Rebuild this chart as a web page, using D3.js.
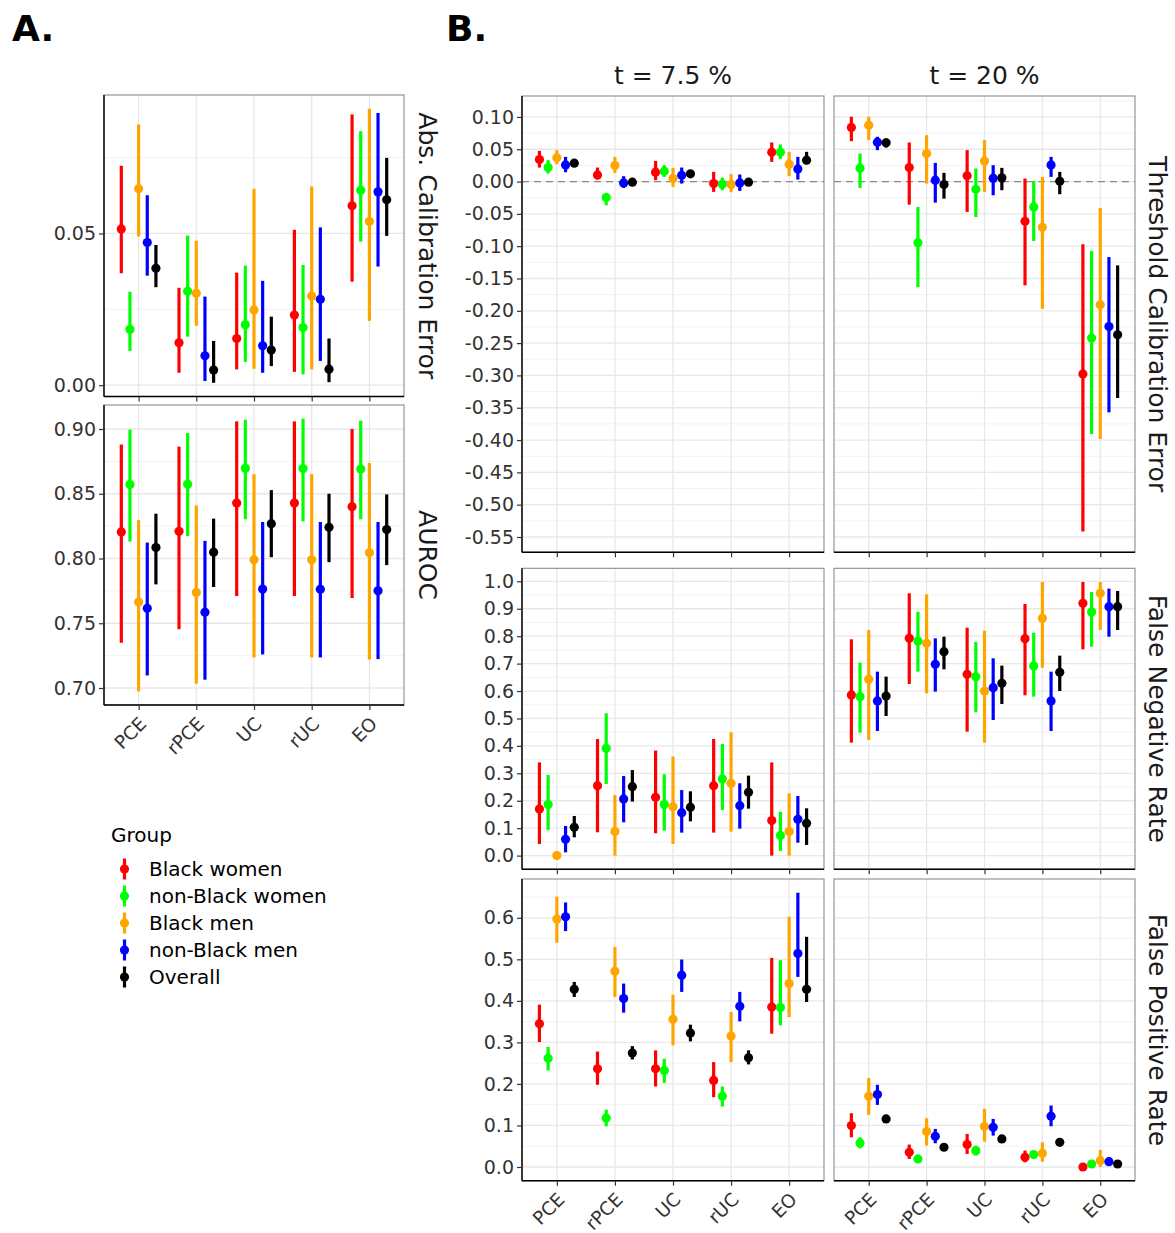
<!DOCTYPE html>
<html><head><meta charset="utf-8">
<script src="https://cdn.jsdelivr.net/npm/d3@7"></script>
<style>body{margin:0;background:#fff} svg{display:block} text{font-family:"DejaVu Sans",sans-serif}</style>
</head><body><svg id="c" width="1175" height="1233"></svg>
<script>
// ---------- data ----------
const categories = ["PCE", "rPCE", "UC", "rUC", "EO"];
const groups = ["Black women", "non-Black women", "Black men", "non-Black men", "Overall"];
const groupColors = ["#FF0000", "#00FF00", "#FFA500", "#0000FF", "#000000"];

// rows = groups, columns = categories
const aceEst = [[0.0515,0.014,0.0154,0.0231,0.0591],[0.0184,0.031,0.0199,0.019,0.0642],[0.0647,0.0303,0.0248,0.0294,0.0539],[0.047,0.0097,0.013,0.0283,0.0637],[0.0385,0.005,0.0116,0.0053,0.0611]];
const aceLo  = [[0.0369,0.0041,0.0052,0.0044,0.0341],[0.0113,0.016,0.0077,0.0036,0.0473],[0.049,0.0196,0.0054,0.0052,0.0212],[0.0361,0.0014,0.0041,0.008,0.0391],[0.0323,0.0008,0.0063,0.001,0.0492]];
const aceHi  = [[0.0723,0.0321,0.0371,0.0512,0.0892],[0.0308,0.0493,0.0394,0.0396,0.0837],[0.0859,0.0476,0.0647,0.0655,0.0911],[0.0626,0.0292,0.0344,0.052,0.0897],[0.0462,0.0146,0.0226,0.0154,0.0749]];

const aucEst = [[0.8205,0.821,0.8428,0.8428,0.84],[0.8572,0.8574,0.8697,0.8695,0.8692],[0.7664,0.7738,0.799,0.799,0.8044],[0.7615,0.7585,0.7764,0.7762,0.7751],[0.8085,0.8049,0.8269,0.8241,0.8223]];
const aucLo  = [[0.7349,0.7454,0.771,0.771,0.7695],[0.8131,0.8174,0.8303,0.8287,0.8303],[0.6974,0.7033,0.7236,0.7236,0.722],[0.7097,0.7064,0.7259,0.7236,0.7223],[0.78,0.778,0.801,0.7972,0.7949]];
const aucHi  = [[0.888,0.8864,0.9059,0.9059,0.9],[0.8995,0.8969,0.9072,0.908,0.9064],[0.8297,0.841,0.8651,0.8651,0.8738],[0.8123,0.8136,0.8282,0.8282,0.8282],[0.8346,0.8308,0.8528,0.85,0.8495]];

const tce75Est = [[0.0341,0.0103,0.0145,-0.0031,0.0455],[0.0217,-0.0248,0.016,-0.0041,0.0455],[0.0367,0.0248,0.0047,-0.0047,0.0269],[0.0258,-0.0021,0.0098,-0.0021,0.0196],[0.0284,-0.001,0.0119,-0.001,0.0331]];
const tce75Lo  = [[0.0217,0.0031,0.0021,-0.016,0.0305],[0.0124,-0.0367,0.0072,-0.0134,0.0351],[0.0269,0.0134,-0.0083,-0.0165,0.0083],[0.0145,-0.0098,-0.0031,-0.0145,0.0031],[0.0238,-0.005,0.0072,-0.005,0.0269]];
const tce75Hi  = [[0.0475,0.0217,0.032,0.015,0.0605],[0.033,-0.0176,0.0253,0.0062,0.0574],[0.0486,0.0382,0.0212,0.0114,0.046],[0.0382,0.0083,0.0217,0.0109,0.0382],[0.033,0.003,0.016,0.003,0.046]];

const tce20Est = [[0.0837,0.0217,0.0088,-0.0615,-0.2977],[0.0207,-0.0946,-0.0119,-0.0393,-0.2419],[0.0873,0.0434,0.032,-0.0708,-0.1907],[0.061,0.0021,0.0052,0.0258,-0.2243],[0.06,-0.0047,0.0057,0.0005,-0.2372]];
const tce20Lo  = [[0.0625,-0.0357,-0.047,-0.1607,-0.5416],[-0.0098,-0.1633,-0.0548,-0.092,-0.3907],[0.0641,-0.0031,-0.016,-0.1969,-0.3984],[0.0486,-0.0326,-0.0212,0.0072,-0.3571],[0.0527,-0.0264,-0.0134,-0.0196,-0.3349]];
const tce20Hi  = [[0.1003,0.0605,0.0486,0.0047,-0.0972],[0.0434,-0.0393,0.0202,0.001,-0.1075],[0.1003,0.0718,0.0641,0.0072,-0.0408],[0.0693,0.0289,0.0253,0.0382,-0.1168],[0.0667,0.0134,0.0212,0.015,-0.1297]];

const fnr75Est = [[0.17,0.255,0.2126,0.255,0.1276],[0.186,0.391,0.186,0.2795,0.073],[0.0,0.0875,0.1786,0.2637,0.0875],[0.0595,0.2066,0.1567,0.182,0.1324],[0.103,0.2515,0.176,0.231,0.118]];
const fnr75Lo  = [[0.0425,0.085,0.0814,0.0838,0.0],[0.0936,0.261,0.091,0.1665,0.017],[0.0,0.0,0.0425,0.0875,0.0],[0.012,0.1215,0.0838,0.0984,0.047],[0.0668,0.197,0.125,0.1713,0.039]];
const fnr75Hi  = [[0.34,0.425,0.383,0.425,0.34],[0.294,0.519,0.2965,0.407,0.16],[0.0,0.221,0.361,0.4496,0.227],[0.108,0.29,0.239,0.2637,0.2175],[0.1446,0.312,0.2345,0.2916,0.1725]];

const fnr20Est = [[0.5857,0.7922,0.661,0.791,0.9198],[0.5796,0.7825,0.6525,0.6914,0.8882],[0.6428,0.774,0.6002,0.8651,0.9563],[0.5638,0.6974,0.6124,0.5638,0.9077],[0.582,0.7436,0.6282,0.6683,0.9077]];
const fnr20Lo  = [[0.412,0.6258,0.452,0.5845,0.7521],[0.4484,0.6707,0.5225,0.5796,0.7618],[0.4216,0.5917,0.412,0.6853,0.8226],[0.4544,0.5978,0.4945,0.4544,0.7983],[0.509,0.6792,0.5529,0.6002,0.8226]];
const fnr20Hi  = [[0.7886,0.9563,0.8311,0.9174,0.9976],[0.7035,0.889,0.7789,0.8129,0.9611],[0.8226,0.9526,0.8202,0.9976,0.9976],[0.6707,0.7922,0.7193,0.6707,0.9733],[0.6525,0.7983,0.6926,0.729,0.9648]];

const fpr75Est = [[0.345,0.2365,0.2365,0.2084,0.385],[0.262,0.118,0.2325,0.1706,0.3838],[0.597,0.4714,0.3556,0.3154,0.4417],[0.6026,0.4055,0.4618,0.387,0.514],[0.428,0.2743,0.3226,0.2631,0.428]];
const fpr75Lo  = [[0.301,0.198,0.194,0.1681,0.321],[0.2325,0.098,0.2027,0.1456,0.341],[0.54,0.4095,0.2928,0.2526,0.3612],[0.568,0.3717,0.4216,0.3508,0.4578],[0.4095,0.259,0.3025,0.247,0.3974]];
const fpr75Hi  = [[0.391,0.278,0.2808,0.2526,0.5036],[0.289,0.138,0.2607,0.1939,0.498],[0.651,0.53,0.415,0.3733,0.6026],[0.637,0.4417,0.4996,0.4216,0.6605],[0.4457,0.291,0.3427,0.2808,0.5543]];

const fpr20Est = [[0.0998,0.0354,0.054,0.0233,0.0],[0.0579,0.0193,0.0394,0.0298,0.0072],[0.1706,0.0853,0.0973,0.033,0.0153],[0.1746,0.074,0.0957,0.1223,0.0129],[0.1158,0.0475,0.0676,0.0595,0.0072]];
const fpr20Lo  = [[0.0716,0.0193,0.0314,0.0113,0.0],[0.045,0.0193,0.0274,0.0217,0.0],[0.1255,0.0515,0.0611,0.0129,0.0],[0.1496,0.0571,0.0756,0.0982,0.0032],[0.1158,0.0475,0.0676,0.0595,0.0016]];
const fpr20Hi  = [[0.1295,0.054,0.0796,0.0394,0.0],[0.0716,0.0193,0.0515,0.0394,0.0072],[0.214,0.1175,0.14,0.0595,0.041],[0.1979,0.0917,0.1158,0.148,0.0233],[0.1158,0.0475,0.0676,0.0595,0.0137]];

const aceTicks = [0, 0.05];
const aucTicks = [0.70, 0.75, 0.80, 0.85, 0.90];
const tceTicks = [-0.55,-0.50,-0.45,-0.40,-0.35,-0.30,-0.25,-0.20,-0.15,-0.10,-0.05,0,0.05,0.10];
const fnrTicks = [0,0.1,0.2,0.3,0.4,0.5,0.6,0.7,0.8,0.9,1.0];
const fprTicks = [0,0.1,0.2,0.3,0.4,0.5,0.6];
const thresholdLabels = ["t = 7.5 %", "t = 20 %"];
const rowLabelsA = ["Abs. Calibration Error", "AUROC"];
const rowLabelsB = ["Threshold Calibration Error", "False Negative Rate", "False Positive Rate"];

// ---------- drawing ----------
const svg = d3.select("#c");
const TICK_FONT = 19;

function expandDomain(...sets) {
  const all = sets.flat(2);
  const mn = d3.min(all), mx = d3.max(all), r = mx - mn;
  return [mn - 0.05 * r, mx + 0.05 * r];
}

function panel(o) {
  const g = svg.append("g");
  const x = d3.scalePoint().domain(categories).range([o.x0, o.x1]).padding(0.6);
  const step = x.step();
  const y = d3.scaleLinear().domain(o.domain).range([o.y1, o.y0]);
  const [dmin, dmax] = o.domain;
  const tstep = o.ticks[1] - o.ticks[0];
  const minors = [];
  o.ticks.forEach(t => { [t - tstep / 2, t + tstep / 2].forEach(m => { if (m > dmin && m < dmax && !minors.some(v => Math.abs(v - m) < 1e-9)) minors.push(m); }); });
  g.selectAll(".mn").data(minors).join("line")
    .attr("x1", o.x0).attr("x2", o.x1).attr("y1", d => y(d)).attr("y2", d => y(d))
    .attr("stroke", "#F2F2F2").attr("stroke-width", 1);
  g.selectAll(".mj").data(o.ticks.filter(t => t >= dmin && t <= dmax)).join("line")
    .attr("x1", o.x0).attr("x2", o.x1).attr("y1", d => y(d)).attr("y2", d => y(d))
    .attr("stroke", "#E8E8E8").attr("stroke-width", 1.3);
  g.selectAll(".vx").data(categories).join("line")
    .attr("x1", d => x(d)).attr("x2", d => x(d)).attr("y1", o.y0).attr("y2", o.y1)
    .attr("stroke", "#E8E8E8").attr("stroke-width", 1.3);
  if (o.zeroLine) {
    g.append("line").attr("x1", o.x0).attr("x2", o.x1).attr("y1", y(0)).attr("y2", y(0))
      .attr("stroke", "#8a8a8a").attr("stroke-width", 1.3).attr("stroke-dasharray", "7,5");
  }
  const rows = [];
  groups.forEach((gr, gi) => categories.forEach((c, ci) => rows.push({ gi, c, est: o.est[gi][ci], lo: o.lo[gi][ci], hi: o.hi[gi][ci] })));
  const cx = d => x(d.c) + (d.gi - 2) * 0.15 * step;
  g.selectAll(".eb").data(rows).join("line")
    .attr("x1", cx).attr("x2", cx).attr("y1", d => y(d.lo)).attr("y2", d => y(d.hi))
    .attr("stroke", d => groupColors[d.gi]).attr("stroke-width", 3.2);
  g.selectAll(".pt").data(rows).join("circle")
    .attr("cx", cx).attr("cy", d => y(d.est)).attr("r", 4.6)
    .attr("fill", d => groupColors[d.gi]);
  g.append("rect").attr("x", o.x0).attr("y", o.y0).attr("width", o.x1 - o.x0).attr("height", o.y1 - o.y0)
    .attr("fill", "none").attr("stroke", "#8c8c8c").attr("stroke-width", 1.1);
  const xa = g.append("g").attr("transform", `translate(0,${o.y1})`)
    .call(d3.axisBottom(x).tickSize(5).tickFormat(""));
  xa.select(".domain").attr("d", `M${o.x0},0H${o.x1}`).attr("stroke", "#000").attr("stroke-width", 1.4);
  xa.selectAll(".tick line").attr("stroke", "#333").attr("stroke-width", 1.2);
  if (o.xLabels) {
    g.selectAll(".xl").data(categories).join("text")
      .attr("transform", d => `translate(${x(d) + 9},${o.y1 + 20}) rotate(-45)`)
      .attr("text-anchor", "end").attr("font-size", 18.5).attr("fill", "#333").text(d => d);
  }
  if (o.yAxis) {
    const ya = g.append("g").attr("transform", `translate(${o.x0},0)`)
      .call(d3.axisLeft(y).tickValues(o.ticks).tickSize(5).tickPadding(3).tickFormat(d3.format(o.fmt)));
    ya.select(".domain").attr("d", `M0,${o.y0}V${o.y1}`).attr("stroke", "#000").attr("stroke-width", 1.4);
    ya.selectAll(".tick line").attr("stroke", "#333").attr("stroke-width", 1.2);
    ya.selectAll(".tick text").attr("font-size", TICK_FONT).attr("fill", "#333")
      .attr("font-family", "DejaVu Sans").text(function(d){ return d3.format(o.fmt)(d).replace("−","-"); });
  }
  return { x, y };
}

function rightStrip(xc, y0, y1, label) {
  svg.append("text").attr("transform", `translate(${xc},${(y0 + y1) / 2}) rotate(90)`)
    .attr("text-anchor", "middle").attr("dominant-baseline", "central")
    .attr("font-size", 25).attr("fill", "#1a1a1a").text(label);
}

// Panel A
const aL = 104, aR = 404;
panel({ x0: aL, x1: aR, y0: 95, y1: 396.5, est: aceEst, lo: aceLo, hi: aceHi,
  domain: expandDomain(aceLo, aceHi, aceEst), ticks: aceTicks, fmt: ".2f", yAxis: true, xLabels: false });
panel({ x0: aL, x1: aR, y0: 405, y1: 705, est: aucEst, lo: aucLo, hi: aucHi,
  domain: expandDomain(aucLo, aucHi, aucEst), ticks: aucTicks, fmt: ".2f", yAxis: true, xLabels: true });
rightStrip(427, 95, 396.5, rowLabelsA[0]);
rightStrip(427, 405, 705, rowLabelsA[1]);

// Panel B
const cols = [[522, 824], [834, 1135]];
const rowsY = [[96, 552.3], [568.3, 869.3], [879, 1180.7]];
const tceDom = expandDomain(tce75Lo, tce75Hi, tce20Lo, tce20Hi);
const fnrDom = expandDomain(fnr75Lo, fnr75Hi, fnr20Lo, fnr20Hi);
const fprDom = expandDomain(fpr75Lo, fpr75Hi, fpr20Lo, fpr20Hi);
const bData = [
  [[tce75Est, tce75Lo, tce75Hi], [tce20Est, tce20Lo, tce20Hi], tceDom, tceTicks, ".2f", true],
  [[fnr75Est, fnr75Lo, fnr75Hi], [fnr20Est, fnr20Lo, fnr20Hi], fnrDom, fnrTicks, ".1f", false],
  [[fpr75Est, fpr75Lo, fpr75Hi], [fpr20Est, fpr20Lo, fpr20Hi], fprDom, fprTicks, ".1f", false]
];
bData.forEach((row, ri) => {
  [row[0], row[1]].forEach((d, ci) => {
    panel({ x0: cols[ci][0], x1: cols[ci][1], y0: rowsY[ri][0], y1: rowsY[ri][1],
      est: d[0], lo: d[1], hi: d[2], domain: row[2], ticks: row[3], fmt: row[4],
      yAxis: ci === 0, xLabels: ri === 2, zeroLine: row[5] });
  });
  rightStrip(1157, rowsY[ri][0], rowsY[ri][1], rowLabelsB[ri]);
});
thresholdLabels.forEach((t, i) => {
  svg.append("text").attr("x", (cols[i][0] + cols[i][1]) / 2).attr("y", 75)
    .attr("text-anchor", "middle").attr("dominant-baseline", "central")
    .attr("font-size", 25).attr("fill", "#1a1a1a").text(t);
});

// panel tags
svg.append("text").attr("x", 12).attr("y", 41).attr("font-family", "Liberation Sans, Arial, sans-serif")
  .attr("font-weight", "bold").attr("font-size", 36).text("A.");
svg.append("text").attr("x", 446).attr("y", 41).attr("font-family", "Liberation Sans, Arial, sans-serif")
  .attr("font-weight", "bold").attr("font-size", 36).text("B.");

// legend
const lg = svg.append("g");
lg.append("text").attr("x", 111).attr("y", 835).attr("dominant-baseline", "central")
  .attr("font-size", 20).attr("fill", "#000").text("Group");
groups.forEach((gr, i) => {
  const yy = 869 + i * 27;
  lg.append("line").attr("x1", 124.5).attr("x2", 124.5).attr("y1", yy - 10.5).attr("y2", yy + 10.5)
    .attr("stroke", groupColors[i]).attr("stroke-width", 3.2);
  lg.append("circle").attr("cx", 124.5).attr("cy", yy).attr("r", 4.6).attr("fill", groupColors[i]);
  lg.append("text").attr("x", 149).attr("y", yy).attr("dominant-baseline", "central")
    .attr("font-size", 20).attr("fill", "#000").text(gr);
});
</script></body></html>
